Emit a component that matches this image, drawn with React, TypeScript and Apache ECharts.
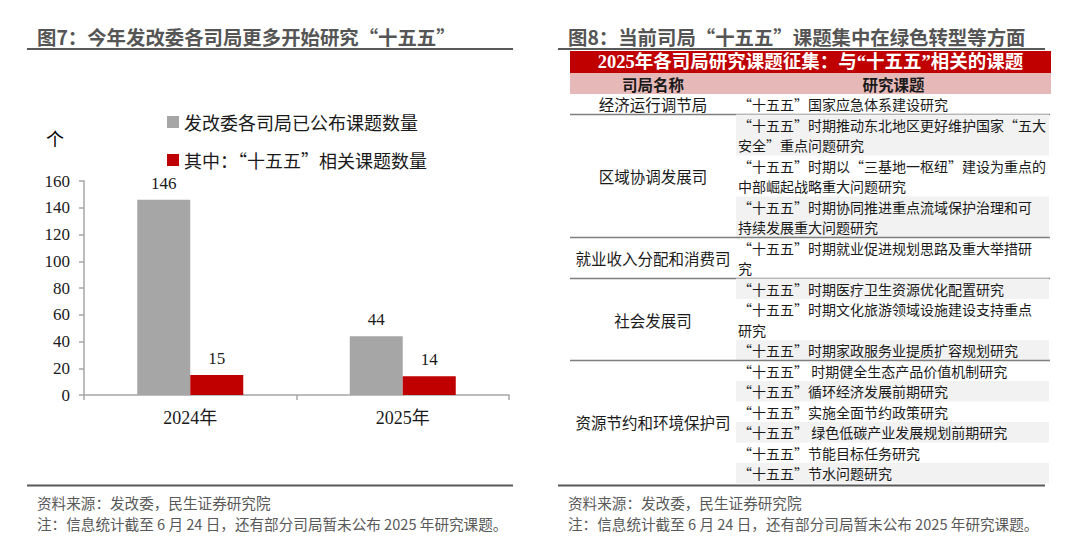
import React, { useEffect, useRef } from "react";
import * as echarts from "echarts";

// ---------- data ----------
const categories = ["2024年", "2025年"];
const seriesNames = ["发改委各司局已公布课题数量", "其中：“十五五”相关课题数量"];
const totalTopics = [146, 44];
const fyTopics = [15, 14];
const yMin = 0;
const yMax = 160;
const yInterval = 20;

const leftTitle = "图7：今年发改委各司局更多开始研究“十五五”";
const rightTitle = "图8：当前司局“十五五”课题集中在绿色转型等方面";
const unitLabel = "个";
const sourceText = "资料来源：发改委，民生证券研究院";
const noteText = "注：信息统计截至 6 月 24 日，还有部分司局暂未公布 2025 年研究课题。";

const tableTitle = "2025年各司局研究课题征集：与“十五五”相关的课题";
const tableHeaders = ["司局名称", "研究课题"];
const departments = [
  "经济运行调节局",
  "区域协调发展司",
  "就业收入分配和消费司",
  "社会发展司",
  "资源节约和环境保护司",
];
const topics: string[][][] = [
  [["“十五五”国家应急体系建设研究"]],
  [
    ["“十五五”时期推动东北地区更好维护国家“五大", "安全”重点问题研究"],
    ["“十五五”时期以“三基地一枢纽”建设为重点的", "中部崛起战略重大问题研究"],
    ["“十五五”时期协同推进重点流域保护治理和可", "持续发展重大问题研究"],
  ],
  [["“十五五”时期就业促进规划思路及重大举措研", "究"]],
  [
    ["“十五五”时期医疗卫生资源优化配置研究"],
    ["“十五五”时期文化旅游领域设施建设支持重点", "研究"],
    ["“十五五”时期家政服务业提质扩容规划研究"],
  ],
  [
    ["“十五五” 时期健全生态产品价值机制研究"],
    ["“十五五”循环经济发展前期研究"],
    ["“十五五”实施全面节约政策研究"],
    ["“十五五” 绿色低碳产业发展规划前期研究"],
    ["“十五五”节能目标任务研究"],
    ["“十五五”节水问题研究"],
  ],
];

// ---------- style / layout ----------
const SERIF = "'Liberation Serif', 'Noto Sans CJK SC', serif";
const CJK = "'Noto Sans CJK SC', sans-serif";
const GREY_BAR = "#A6A6A6";
const RED = "#C00000";
const PINK = "#E6B9B8";
const SHADE = "#F2F2F2";
const TITLE_COLOR = "#555555";
const FOOT_COLOR = "#595959";

const T_LEFT = 570;
const T_RIGHT = 1051;
const COL_SPLIT = 736;
const TITLE_TOP = 51;
const TITLE_H = 22;
const HEAD_TOP = 73;
const HEAD_H = 21;
const BODY_TOP = 94;
const LINE_H = 20.5;

function buildGraphics() {
  const g: any[] = [];
  // panel titles & rules
  const panels = [
    { x0: 27, x1: 513, tx: 37, title: leftTitle },
    { x0: 558, x1: 1045, tx: 568, title: rightTitle },
  ];
  panels.forEach((p) => {
    g.push({
      type: "text",
      x: p.tx,
      y: 36.5,
      style: { text: p.title, font: `bold 19.4px ${CJK}`, fill: TITLE_COLOR, verticalAlign: "middle" },
    });
    g.push({
      type: "line",
      shape: { x1: p.x0, y1: 49, x2: p.x1, y2: 49 },
      style: { stroke: "#595959", lineWidth: 2 },
    });
    g.push({
      type: "line",
      shape: { x1: p.x0, y1: 485.5, x2: p.x1, y2: 485.5 },
      style: { stroke: "#595959", lineWidth: 2 },
    });
    g.push({
      type: "text",
      x: p.tx,
      y: 502,
      style: { text: sourceText, font: `14.6px ${CJK}`, fill: FOOT_COLOR, verticalAlign: "middle" },
    });
    g.push({
      type: "text",
      x: p.tx,
      y: 523.5,
      style: { text: noteText, font: `14.6px ${CJK}`, fill: FOOT_COLOR, verticalAlign: "middle" },
    });
  });

  // unit
  g.push({
    type: "text",
    x: 55,
    y: 138,
    style: { text: unitLabel, font: `18px ${CJK}`, fill: "#000", align: "center", verticalAlign: "middle" },
  });

  // table title bar
  g.push({
    type: "rect",
    shape: { x: T_LEFT, y: TITLE_TOP, width: T_RIGHT - T_LEFT, height: TITLE_H },
    style: { fill: RED },
  });
  g.push({
    type: "text",
    x: (T_LEFT + T_RIGHT) / 2,
    y: TITLE_TOP + TITLE_H / 2,
    style: {
      text: tableTitle,
      font: `bold 18.5px ${SERIF}`,
      fill: "#fff",
      align: "center",
      verticalAlign: "middle",
    },
  });
  // header row
  g.push({
    type: "rect",
    shape: { x: T_LEFT, y: HEAD_TOP, width: T_RIGHT - T_LEFT, height: HEAD_H },
    style: { fill: PINK },
  });
  [(T_LEFT + COL_SPLIT) / 2, (COL_SPLIT + T_RIGHT) / 2].forEach((cx, i) => {
    g.push({
      type: "text",
      x: cx,
      y: HEAD_TOP + HEAD_H / 2,
      style: {
        text: tableHeaders[i],
        font: `bold 15.5px ${CJK}`,
        fill: "#1a1a1a",
        align: "center",
        verticalAlign: "middle",
      },
    });
  });

  // body
  let y = BODY_TOP;
  let topicIdx = 0;
  departments.forEach((dep, di) => {
    const groupTop = y;
    topics[di].forEach((lines) => {
      const h = lines.length * LINE_H;
      if (topicIdx % 2 === 1) {
        g.push({
          type: "rect",
          shape: { x: COL_SPLIT, y, width: T_RIGHT - 2 - COL_SPLIT, height: h },
          style: { fill: SHADE },
        });
      }
      lines.forEach((ln, li) => {
        g.push({
          type: "text",
          x: COL_SPLIT + 2,
          y: y + LINE_H * li + LINE_H / 2,
          style: { text: ln, font: `14px ${CJK}`, fill: "#1a1a1a", verticalAlign: "middle" },
        });
      });
      y += h;
      topicIdx++;
    });
    g.push({
      type: "text",
      x: (T_LEFT + COL_SPLIT) / 2,
      y: (groupTop + y) / 2,
      style: {
        text: dep,
        font: `15.5px ${CJK}`,
        fill: "#1a1a1a",
        align: "center",
        verticalAlign: "middle",
      },
    });
    if (di < departments.length - 1) {
      g.push({
        type: "line",
        shape: { x1: T_LEFT, y1: y, x2: T_RIGHT - 1, y2: y },
        style: { stroke: "#7F7F7F", lineWidth: 1.5 },
      });
    }
  });
  return g;
}

export default function App() {
  const ref = useRef<HTMLDivElement>(null);
  useEffect(() => {
    if (!ref.current) return;
    const chart = echarts.init(ref.current, undefined, { renderer: "svg" });
    chart.setOption({
      animation: false,
      backgroundColor: "#fff",
      grid: { left: 84, right: 571, top: 181, bottom: 151 },
      legend: {
        orient: "vertical",
        left: 167,
        top: 112,
        padding: 0,
        itemWidth: 12,
        itemHeight: 12,
        itemGap: 18,
        icon: "rect",
        data: seriesNames,
        textStyle: { fontSize: 18, lineHeight: 20, color: "#1a1a1a", fontFamily: CJK },
      },
      xAxis: {
        type: "category",
        data: categories,
        axisLine: { lineStyle: { color: "#A6A6A6", width: 1.5 } },
        axisTick: { show: true, length: 5, lineStyle: { color: "#A6A6A6", width: 1.5 } },
        axisLabel: { fontFamily: SERIF, fontSize: 18, color: "#1a1a1a", margin: 14 },
      },
      yAxis: {
        type: "value",
        min: yMin,
        max: yMax,
        interval: yInterval,
        axisLine: { show: true, lineStyle: { color: "#A6A6A6", width: 1.5 } },
        axisTick: { show: true, length: 5, lineStyle: { color: "#A6A6A6", width: 1.5 } },
        splitLine: { show: false },
        axisLabel: { fontFamily: SERIF, fontSize: 17, color: "#1a1a1a", margin: 14 },
      },
      series: [
        {
          type: "bar",
          name: seriesNames[0],
          data: totalTopics,
          barWidth: 53,
          barGap: "0%",
          itemStyle: { color: GREY_BAR },
          label: { show: true, position: "top", distance: 8, fontFamily: SERIF, fontSize: 17, color: "#1a1a1a" },
        },
        {
          type: "bar",
          name: seriesNames[1],
          data: fyTopics,
          barWidth: 53,
          barGap: "0%",
          itemStyle: { color: RED },
          label: { show: true, position: "top", distance: 8, fontFamily: SERIF, fontSize: 17, color: "#1a1a1a" },
        },
      ],
      graphic: buildGraphics(),
    });
    return () => chart.dispose();
  }, []);
  return (
    <div
      ref={ref}
      style={{ position: "fixed", left: 0, top: 0, width: 1080, height: 546, background: "#fff" }}
    />
  );
}
